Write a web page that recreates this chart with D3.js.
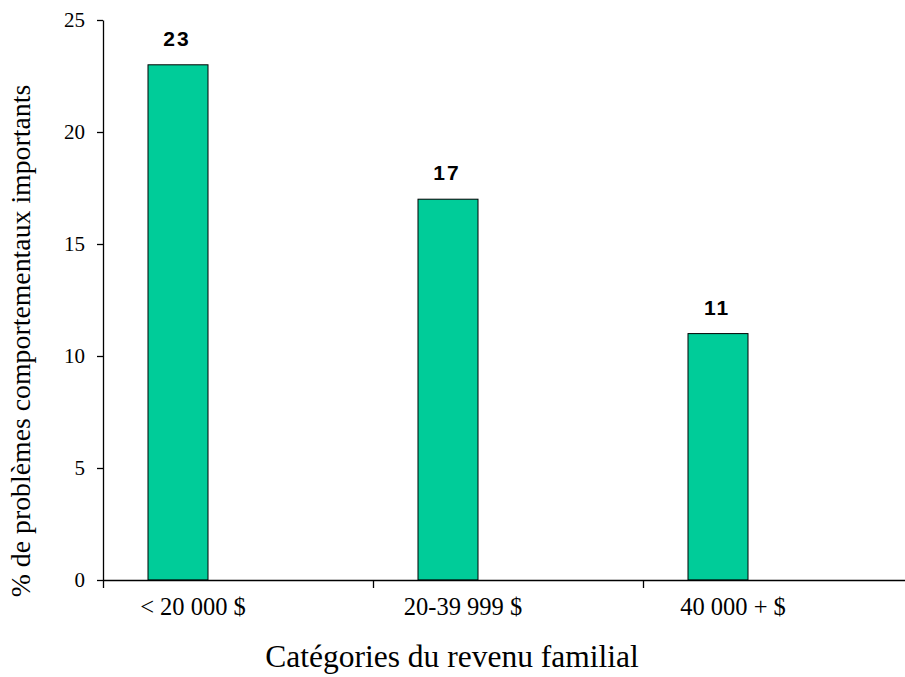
<!DOCTYPE html>
<html>
<head>
<meta charset="utf-8">
<script src="https://cdn.jsdelivr.net/npm/d3@7"></script>
<style>
  html, body { margin: 0; padding: 0; background: #fff; }
  svg { display: block; }
  .value-label { font-family: Arial, "Liberation Sans", Helvetica, sans-serif; font-weight: 700; }
</style>
</head>
<body>
<svg id="chart" width="905" height="677"></svg>
<script>
// Income categories and share of children with major behavioural problems (%)
const categories = ["< 20 000 $", "20-39 999 $", "40 000 + $"];
const values = [23, 17, 11];
const yTicks = [0, 5, 10, 15, 20, 25];

const svg = d3.select("#chart");
const plot = { left: 103, right: 913, top: 20, bottom: 580 };
const serif = "'Liberation Serif', 'Times New Roman', serif";

const x = d3.scaleBand()
  .domain(categories)
  .range([plot.left, plot.right])
  .paddingInner(0)
  .paddingOuter(0);

const y = d3.scaleLinear()
  .domain([0, 25])
  .range([plot.bottom, plot.top]);

const bw = x.bandwidth();
const barOffset = bw / 6;
const barWidth = bw * 2 / 9;

// Bars
svg.append("g")
  .selectAll("rect")
  .data(values)
  .join("rect")
  .attr("x", (d, i) => x(categories[i]) + barOffset)
  .attr("y", d => y(d))
  .attr("width", barWidth)
  .attr("height", d => y(0) - y(d))
  .attr("fill", "#00CC99")
  .attr("stroke", "#000")
  .attr("stroke-width", 1);

// Value labels above bars
svg.append("g")
  .selectAll("text")
  .data(values)
  .join("text")
  .attr("class", "value-label")
  .attr("x", (d, i) => x(categories[i]) + barOffset + barWidth / 2 - 1)
  .attr("y", d => y(d) - 19)
  .attr("text-anchor", "middle")
  .attr("font-size", 21)
  .attr("letter-spacing", 2)
  .text(d => d);

// Y axis
const yAxis = svg.append("g")
  .attr("transform", `translate(${plot.left},0)`)
  .call(d3.axisLeft(y).tickValues(yTicks).tickSize(6).tickPadding(12).tickSizeOuter(0));
yAxis.selectAll("text")
  .attr("font-family", serif)
  .attr("font-size", 21)
  .attr("fill", "#000");
yAxis.selectAll("line, path").attr("stroke", "#000").attr("stroke-width", 1.3);

// X axis: line with ticks at category boundaries
const bounds = d3.scaleLinear().domain([0, categories.length]).range([plot.left, plot.right]);
const xAxis = svg.append("g")
  .attr("transform", `translate(0,${plot.bottom})`)
  .call(d3.axisBottom(bounds).ticks(categories.length).tickFormat("").tickSize(8).tickSizeOuter(0));
xAxis.selectAll("line, path").attr("stroke", "#000").attr("stroke-width", 1.3);

// Category labels
svg.append("g")
  .selectAll("text")
  .data(categories)
  .join("text")
  .attr("x", d => x(d) + bw / 2 - 45)
  .attr("y", 615)
  .attr("text-anchor", "middle")
  .attr("font-family", serif)
  .attr("font-size", 24.5)
  .text(d => d);

// Axis titles
svg.append("text")
  .attr("x", 452)
  .attr("y", 667)
  .attr("text-anchor", "middle")
  .attr("font-family", serif)
  .attr("font-size", 31.5)
  .text("Catégories du revenu familial");

svg.append("text")
  .attr("transform", "translate(30,341) rotate(-90)")
  .attr("text-anchor", "middle")
  .attr("font-family", serif)
  .attr("font-size", 27.8)
  .text("% de problèmes comportementaux importants");
</script>
</body>
</html>
